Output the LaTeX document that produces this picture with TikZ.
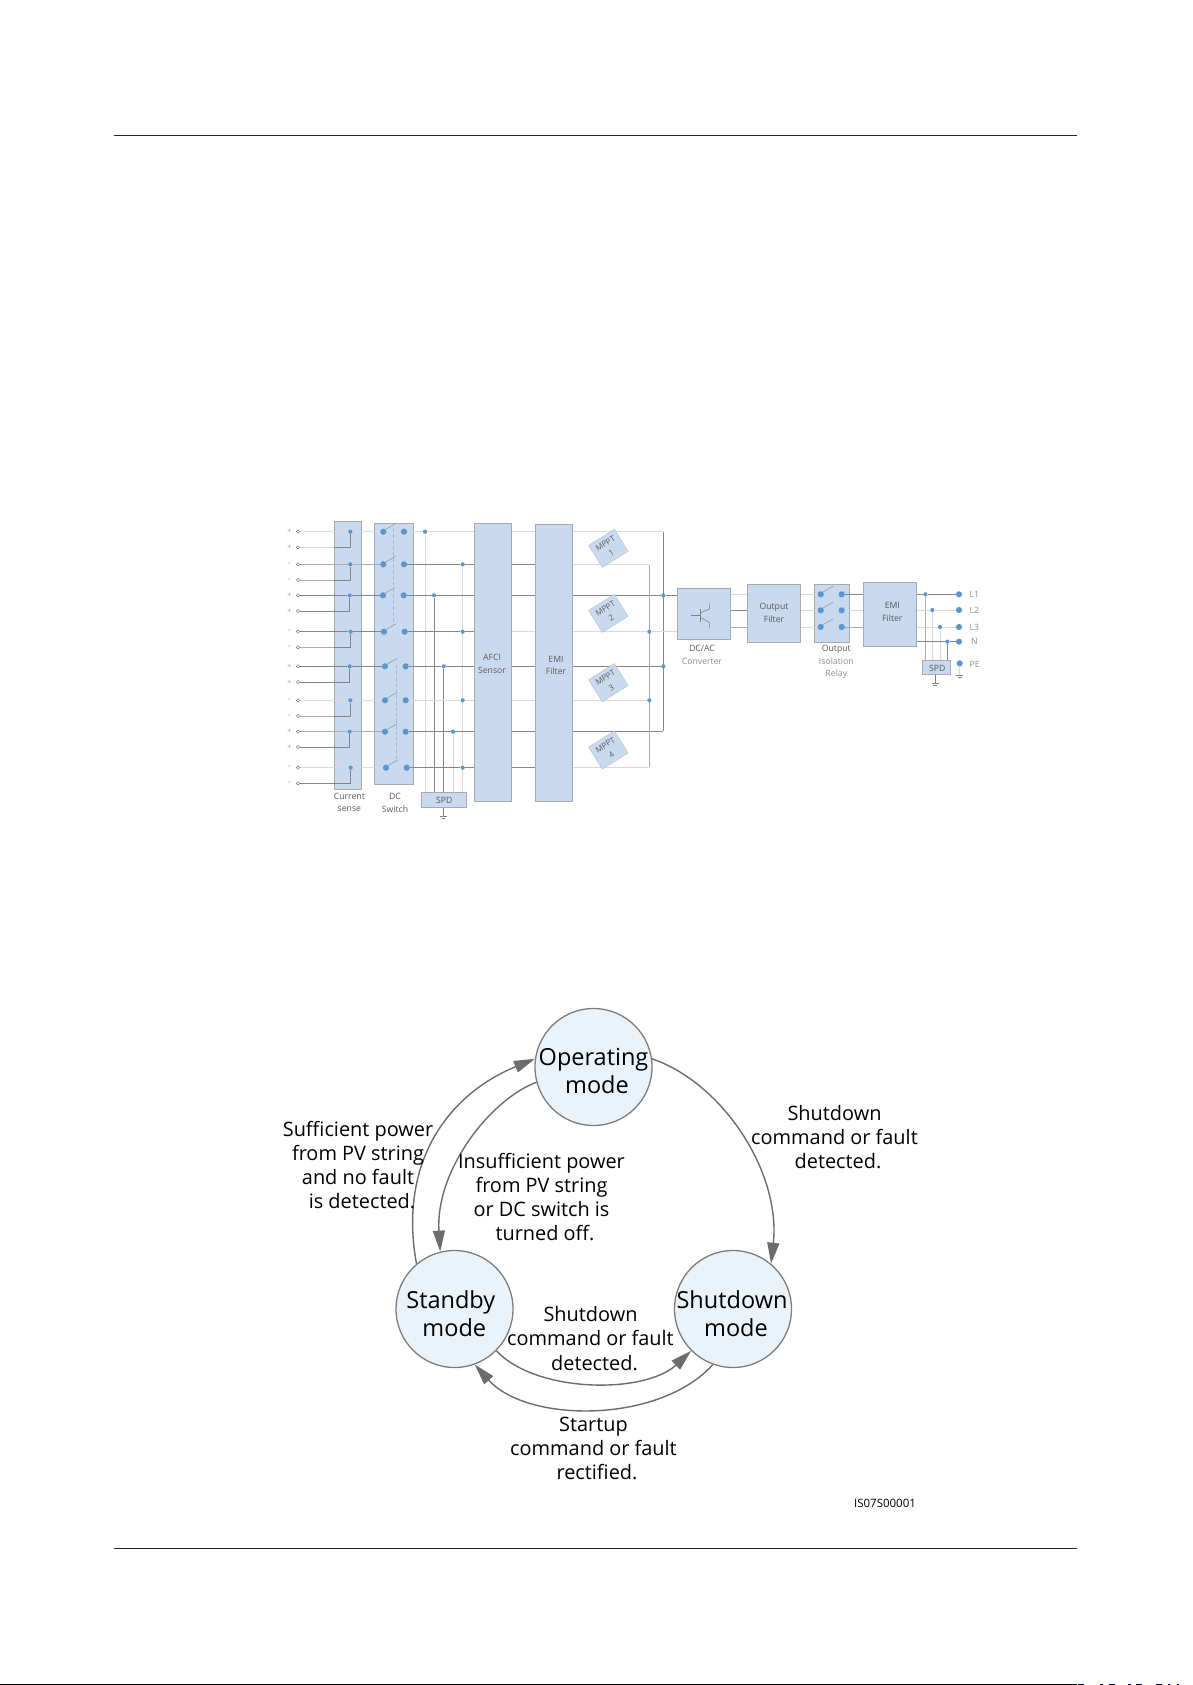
\documentclass[tikz,border=0pt]{standalone}
\usepackage{fontspec}
\setmainfont{Open Sans}
\usetikzlibrary{arrows.meta,fit}
\pgfdeclarelayer{boxlayer}
\pgfdeclarelayer{wirelayer}
\pgfsetlayers{boxlayer,wirelayer,main}
\definecolor{boxblue}{HTML}{C9DAEF}
\definecolor{boxedge}{HTML}{A6ABB2}
\definecolor{dotblue}{HTML}{5B96CF}
\definecolor{signblue}{HTML}{6FA8DC}
\definecolor{dashblue}{HTML}{9DBDE0}
\definecolor{circfill}{HTML}{EAF3FA}
\definecolor{circedge}{HTML}{7C7C7C}
\definecolor{arcgray}{HTML}{6C6C6C}
\definecolor{txtsoft}{HTML}{5A5A5A}
\definecolor{txtpale}{HTML}{8C8C8C}
\tikzset{
  wd/.style={draw=black!48,line width=0.75pt},
  wm/.style={draw=black!32,line width=0.75pt},
  wl/.style={draw=black!15,line width=0.75pt},
  bbox/.style={draw=boxedge,fill=boxblue,line width=0.7pt,inner sep=0pt},
  mppt/.style={fill=boxblue,draw=boxblue!85!black,line width=0.3pt,inner sep=0pt,align=center,text=txtsoft,minimum width=30.5pt,minimum height=26pt,rotate=32,font=\fontsize{8}{11.5}\selectfont},
  lbl/.style={inner sep=0pt,align=center,text=txtsoft,font=\fontsize{8.7}{12.6}\selectfont},
  sgn/.style={inner sep=0pt,text=signblue,font=\fontsize{7.5}{7.5}\selectfont},
  term/.style={circle,draw=black!60,fill=white,line width=0.4pt,inner sep=0pt,minimum size=3.4pt},
  jdot/.style={circle,fill=dotblue,inner sep=0pt,minimum size=4.2pt},
  sdot/.style={circle,fill=dotblue,inner sep=0pt,minimum size=6.2pt},
  nodot/.style={inner sep=0pt,minimum size=0pt},
  arm/.style={draw=black!40,line width=0.6pt},
  gang/.style={draw=dashblue,line width=0.7pt,dash pattern=on 4pt off 2pt},
  gnd/.style={draw=black!50,line width=0.6pt},
  mode/.style={circle,draw=circedge,fill=circfill,line width=1.3pt,minimum size=117pt,inner sep=0pt},
  modetxt/.style={inner sep=0pt,align=center,font=\fontsize{23.5}{28.5}\selectfont},
  capt/.style={inner sep=0pt,align=center,font=\fontsize{19.9}{24.2}\selectfont},
  flow/.style={draw=arcgray,line width=1.4pt,-{Triangle[length=21pt,width=12pt,fill=arcgray]}},
  pagerule/.style={draw=black!85,line width=1.1pt}
}
\begin{document}
\begin{tikzpicture}[x=1pt,y=-1pt]
\useasboundingbox (0,0) rectangle (1192,1685);
% page rules
\coordinate (topL) at (113.5,135.4);
\coordinate (topR) at (1077,135.4);
\coordinate (botL) at (113.5,1548.4);
\coordinate (botR) at (1077,1548.4);
\draw[pagerule] (topL) -- (topR);
\draw[pagerule] (botL) -- (botR);
\draw[draw=black,line width=1.3pt] (0,1684.3) -- (1077,1684.3);
\foreach \a/\b in {1078/1084,1100/1103,1109/1115,1128/1131,1136/1142,1156/1162,1168/1170,1177/1179}
  \draw[draw=black!70!blue,line width=1.3pt] (\a,1684.3) -- (\b,1684.3);

% ---------- schematic (units: 1/3 px, origin 280,515)
\begin{scope}[shift={(280,515)},x=0.33333pt,y=-0.33333pt]
 \begin{pgfonlayer}{boxlayer}
  \node[bbox,fit={(164,20)(245,822)}] (cs) {};
  \node[bbox,fit={(283,25)(401,808)}] (dcsw) {};
  \node[bbox,fit={(583,26)(695,858)}] (afci) {};
  \node[bbox,fit={(767,28)(878,859)}] (emi) {};
  \node[bbox,fit={(424,833)(559,877)}] (spd) {};
  \node[bbox,fit={(1192,221)(1352,373)}] (dcac) {};
  \node[bbox,fit={(1402,208)(1562,382)}] (ofil) {};
  \node[bbox,fit={(1603,209)(1709,382)}] (rel) {};
  \node[bbox,fit={(1751,203)(1910,394)}] (emib) {};
  \node[bbox,fit={(1927,437)(2012,478)}] (spdb) {};
 \end{pgfonlayer}
 \node[lbl] (lafci) at (636,446) {AFCI\\Sensor};
 \node[lbl] (lemi) at (828,451) {EMI\\Filter};
 \node[lbl] (lspd) at (493,856) {SPD};
 \node[lbl] (lofil) at (1482,293) {Output\\Filter};
 \node[lbl] (lemib) at (1837,291) {EMI\\Filter};
 \node[lbl] (lspdb) at (1972,460) {SPD};
 \node[lbl] (lcs) at (208,862) {Current\\sense};
 \node[lbl] (ldc) at (345,863) {DC\\Switch};
 \node[lbl] (ldcac) at (1266,419) {DC/AC\\\textcolor{txtpale}{Converter}};
 \node[lbl] (lrel) at (1669,441) {Output\\\textcolor{txtpale}{Isolation}\\\textcolor{txtpale}{Relay}};
 % inputs
 \foreach \n/\y/\sg in {1/50/+,2/97/+,3/148/–,4/195/–,5/241/+,6/288/+,7/350/–,8/397/–,9/454/+,10/501/+,11/556/–,12/603/–,13/650/+,14/696/+,15/758/–,16/805/–}{
   \node[term] (t\n) at (54,\y) {};
   \node[sgn] (sg\n) at (28,\y) {\sg};
 }
 % rows
 \foreach \r/\y/\xj/\xa/\xb/\xbus/\tu/\tl/\cu/\cl/\co/\cv/\ce/\cf/\rx/\rs in {
   1/50/211/310/372/435/1/2/wl/wl/wl/wl/wl/wl/1150/nodot,
   2/148/211/310/372/548/3/4/wm/wm/wd/wl/wd/wl/1108/nodot,
   3/241/209/309/371/462/5/6/wd/wd/wd/wd/wd/wd/1150/jdot,
   4/350/212/312/374/548/7/8/wd/wm/wd/wl/wl/wl/1108/jdot,
   5/454/209/315/377/491/9/10/wd/wd/wd/wd/wd/wd/1150/jdot,
   6/556/211/315/377/548/11/12/wl/wm/wl/wl/wl/wl/1108/jdot,
   7/650/209/315/377/519/13/14/wm/wd/wd/wl/wd/wd/1150/nodot,
   8/758/212/318/380/548/15/16/wl/wd/wd/wl/wd/wl/1108/nodot}{
   \node[jdot] (j\r) at (\xj,\y) {};
   \node[sdot] (sl\r) at (\xa,\y) {};
   \node[sdot] (sr\r) at (\xb,\y) {};
   \node[jdot] (b\r) at (\xbus,\y) {};
   \node[\rs] (rj\r) at (\rx,\y) {};
   \begin{pgfonlayer}{wirelayer}
    \draw[\cu] (t\tu) -- (j\r) -- (sl\r);
    \draw[\cl] (t\tl) -- (cs.west |- t\tl);
    \draw[wd] (cs.west |- t\tl) -- (j\r |- t\tl) -- (j\r);
    \draw[arm] (sl\r.north east) -- ++(30,-17);
    \draw[\co] (sr\r) -- (b\r) -- (afci.west |- b\r);
    \draw[\cv] (b\r) -- (spd.north -| b\r);
    \draw[\ce] (afci.east |- b\r) -- (emi.west |- b\r);
    \draw[\cf] (emi.east |- rj\r) -- (rj\r);
   \end{pgfonlayer}
 }
 \begin{pgfonlayer}{wirelayer}
  \draw[gang] (340,40) -- (340,330);
  \draw[gang] (348,450) -- (348,735);
  \draw[wd] (rj1) -- (rj7);
  \draw[wm] (rj2) -- (rj8);
  \draw[wd] (rj3) -- (dcac.west |- rj3);
  \draw[wl] (rj4) -- (dcac.west |- rj4);
 \end{pgfonlayer}
 % MPPT
 \node[mppt] (m1) at (985,100) {MPPT\\1};
 \node[mppt] (m2) at (985,295) {MPPT\\2};
 \node[mppt] (m3) at (985,503) {MPPT\\3};
 \node[mppt] (m4) at (985,705) {MPPT\\4};
 % SPD ground
 \coordinate (g1) at (490,905);
 \begin{pgfonlayer}{wirelayer}
  \draw[gnd] (spd.south -| g1) -- (g1);
  \draw[gnd] (480,905) -- (500,905);
  \draw[gnd] (485,911) -- (495,911);
 \end{pgfonlayer}
 % IGBT symbol
 \draw[gnd] (1262,283) -- (1262,320);
 \draw[gnd] (1233,300) -- (1262,300);
 \draw[gnd] (1262,293) -- (1288,282) -- (1288,265);
 \draw[gnd] (1262,308) -- (1288,322) -- (1288,340);
 % AC side
 \foreach \r/\ya/\ca/\cb/\cc in {1/238/wl/wl/wd,2/286/wd/wl/wl,3/336/wm/wl/wm}{
   \node[sdot] (rl\r) at (1622,\ya) {};
   \node[sdot] (rr\r) at (1685,\ya) {};
   \begin{pgfonlayer}{wirelayer}
    \draw[\ca] (dcac.east |- rl\r) -- (ofil.west |- rl\r);
    \draw[\cb] (ofil.east |- rl\r) -- (rl\r);
    \draw[arm] (rl\r.north east) -- ++(30,-17);
    \draw[\cc] (rr\r) -- (emib.west |- rr\r);
   \end{pgfonlayer}
 }
 \foreach \r/\y/\x/\c/\cv/\name in {1/238/1936/wd/wm/L1,2/285/1957/wl/wl/L2,3/336/1980/wl/wl/L3,4/380/2002/wd/wd/N}{
   \node[jdot] (oj\r) at (\x,\y) {};
   \node[sdot] (od\r) at (2037,\y) {};
   \node[lbl,text=txtpale] (ol\r) at (2083,\y) {\name};
   \begin{pgfonlayer}{wirelayer}
    \draw[\c] (emib.east |- oj\r) -- (oj\r) -- (od\r);
    \draw[\cv] (oj\r) -- (spdb.north -| oj\r);
   \end{pgfonlayer}
 }
 \node[sdot] (pe) at (2039,445) {};
 \node[lbl,text=txtpale] (pel) at (2084,447) {PE};
 \coordinate (g2) at (1966,505);
 \coordinate (g3) at (2039,482);
 \begin{pgfonlayer}{wirelayer}
  \draw[gnd] (spdb.south -| g2) -- (g2);
  \draw[gnd] (1955,505) -- (1977,505);
  \draw[gnd] (1960,511) -- (1972,511);
  \draw[wl] (pe) -- (g3);
  \draw[gnd] (2028,482) -- (2050,482);
  \draw[gnd] (2033,488) -- (2045,488);
 \end{pgfonlayer}
\end{scope}

% ---------- state diagram
\node[mode] (op) at (593.5,1067) {};
\node[mode] (sb) at (454.5,1309) {};
\node[mode] (sd) at (733,1309) {};
\node[modetxt] (topt) at (593.5,1071) {Operating\\\hspace*{7pt}mode};
\node[modetxt] (tsb) at (450.8,1313.5) {Standby\\\hspace*{7pt}mode};
\node[modetxt] (tsd) at (732,1313.5) {Shutdown\\\hspace*{8pt}mode};
\draw[flow] (op.8) .. controls +(72,25) and +(10,-90) .. (sd.50);
\draw[flow] (sb.130) .. controls +(-18,-98) and +(-90,37) .. (op.172);
\draw[flow] (op.195) .. controls +(-46,17) and +(-5,-81) .. (sb.104);
\draw[flow] (sb.-45) .. controls +(41,43) and +(-46,43) .. (sd.225);
\draw[flow] (sd.250) .. controls +(-53,59) and +(53,59) .. (sb.290);
\node[capt] (c1) at (358,1165) {Sufficient power\\from PV string\\and no fault\\\hspace*{8pt}is detected.};
\node[capt] (c2) at (541.5,1197) {Insufficient power\\from PV string\\or DC switch is\\\hspace*{7pt}turned off.};
\node[capt] (c3) at (834.5,1137) {Shutdown\\command or fault\\\hspace*{7pt}detected.};
\node[capt] (c4) at (590.5,1338.5) {Shutdown\\command or fault\\\hspace*{8pt}detected.};
\node[capt] (c5) at (593.5,1448.5) {Startup\\command or fault\\\hspace*{7pt}rectified.};
\node[inner sep=0pt,font=\fontsize{11.5}{13}\selectfont] (fig) at (885,1503) {IS07S00001};
\end{tikzpicture}
\end{document}
